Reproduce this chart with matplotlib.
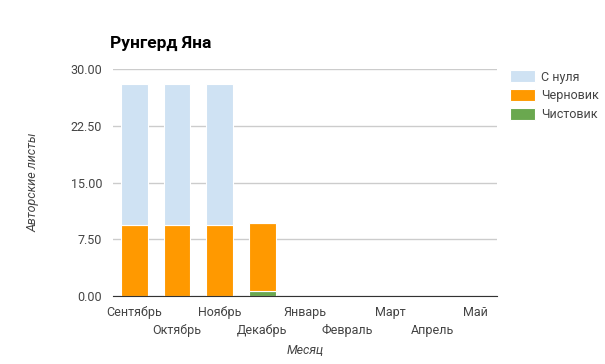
import numpy as np
import matplotlib.pyplot as plt

months = ['Сентябрь', 'Октябрь', 'Ноябрь', 'Декабрь', 'Январь',
          'Февраль', 'Март', 'Апрель', 'Май']
clean = [0, 0, 0, 0.6, 0, 0, 0, 0, 0]          # Чистовик
draft = [9.4, 9.4, 9.4, 9.1, 0, 0, 0, 0, 0]    # Черновик
scratch = [18.6, 18.6, 18.6, 0, 0, 0, 0, 0, 0]  # С нуля
yticks = [0, 7.5, 15, 22.5, 30]

plt.rcParams['font.family'] = ['Roboto', 'DejaVu Sans']

fig = plt.figure(figsize=(6.05, 3.64), dpi=100)
ax = fig.add_axes([0.187, 0.187, 0.634, 0.623])

x = np.arange(len(months))
w = 0.62
clean = np.array(clean)
draft = np.array(draft)
scratch = np.array(scratch)

ax.bar(x, clean, w, color='#6aa84f', edgecolor='white', linewidth=0.8, label='Чистовик', zorder=3)
ax.bar(x, draft, w, bottom=clean, color='#ff9900', edgecolor='white', linewidth=0.8, label='Черновик', zorder=3)
ax.bar(x, scratch, w, bottom=clean + draft, color='#cfe2f3', edgecolor='white', linewidth=0.8, label='С нуля', zorder=3)

ax.set_xlim(-0.5, len(months) - 0.5)
ax.set_ylim(0, 30)
ax.set_yticks(yticks)
ax.set_yticklabels(['%.2f' % v for v in yticks], color='#444444', fontsize=9)
ax.grid(axis='y', color='#cccccc', linewidth=1, zorder=0)
ax.tick_params(axis='y', length=0, pad=8)
ax.tick_params(axis='x', length=0)
for s in ['top', 'right', 'left']:
    ax.spines[s].set_visible(False)
ax.spines['bottom'].set_color('#333333')
ax.spines['bottom'].set_zorder(4)

ax.set_xticks(x)
ax.set_xticklabels(['' for m in months])
for i, m in enumerate(months):
    yoff = -0.045 if i % 2 == 0 else -0.125
    ax.text(i, yoff, m, transform=ax.get_xaxis_transform(), ha='center', va='top',
            fontsize=9, color='#444444')

ax.set_xlabel('Месяц', fontsize=9, style='italic', color='#444444', labelpad=31)
ax.set_ylabel('Авторские листы', fontsize=9, style='italic', color='#444444', labelpad=22)

fig.text(0.182, 0.868, 'Рунгерд Яна', fontsize=12.5, fontweight='bold', color='black')

h, l = ax.get_legend_handles_labels()
ax.legend(h[::-1], l[::-1], loc='upper left', bbox_to_anchor=(1.035, 0.995), frameon=False,
          fontsize=9, handlelength=2.0, handleheight=1.1, handletextpad=0.5,
          labelcolor='#444444', borderaxespad=0, labelspacing=0.45, borderpad=0)

fig.savefig('out.png', dpi=100)
